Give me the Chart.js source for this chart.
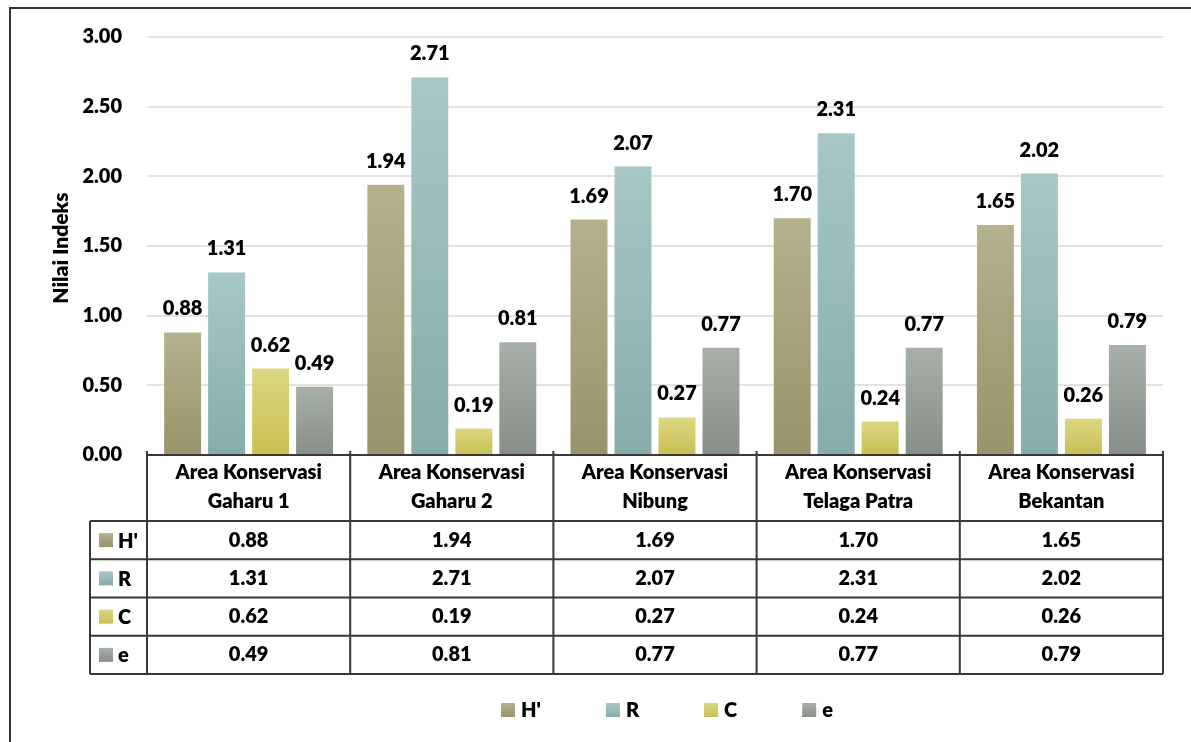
<!DOCTYPE html>
<html>
<head>
<meta charset="utf-8">
<script src="https://cdn.jsdelivr.net/npm/chart.js"></script>
<style>
  html, body { margin: 0; padding: 0; background: #fff; }
  #wrap { width: 1191px; height: 742px; }
</style>
</head>
<body>
<div id="wrap"><canvas id="chart"></canvas></div>
<script>
const categories = [
  ['Area Konservasi', 'Gaharu 1'],
  ['Area Konservasi', 'Gaharu 2'],
  ['Area Konservasi', 'Nibung'],
  ['Area Konservasi', 'Telaga Patra'],
  ['Area Konservasi', 'Bekantan']
];
const seriesNames = ["H'", 'R', 'C', 'e'];
const hValues = [0.88, 1.94, 1.69, 1.70, 1.65];
const rValues = [1.31, 2.71, 2.07, 2.31, 2.02];
const cValues = [0.62, 0.19, 0.27, 0.24, 0.26];
const eValues = [0.49, 0.81, 0.77, 0.77, 0.79];
const yTicks = [0, 0.5, 1, 1.5, 2, 2.5, 3];

const topColors = ['#b5b18e', '#a8c7c7', '#dcd782', '#a7afa9'];
const bottomColors = ['#99936a', '#86acab', '#c8c052', '#868f87'];
const FONT = 'Lato, "Open Sans", sans-serif';
const W = '800';

function barGradient(i) {
  return function(context) {
    const chart = context.chart;
    const y = chart.scales.y;
    if (!y || !context.parsed) return topColors[i];
    const yTop = y.getPixelForValue(context.parsed.y);
    const yBase = y.getPixelForValue(0);
    if (!isFinite(yTop) || Math.abs(yBase - yTop) < 1) return topColors[i];
    const g = chart.ctx.createLinearGradient(0, yTop, 0, yBase);
    g.addColorStop(0, topColors[i]);
    g.addColorStop(1, bottomColors[i]);
    return g;
  };
}

function boxGradient(ctx, i, y, s) {
  const g = ctx.createLinearGradient(0, y, 0, y + s);
  g.addColorStop(0, topColors[i]);
  g.addColorStop(1, bottomColors[i]);
  return g;
}

// frame, data labels, table, legend, axis title
const extrasPlugin = {
  id: 'extras',
  beforeDraw(chart) {
    const ctx = chart.ctx;
    ctx.save();
    ctx.strokeStyle = '#3b3629';
    ctx.lineWidth = 2;
    ctx.beginPath();
    ctx.moveTo(10, chart.height);
    ctx.lineTo(10, 8);
    ctx.lineTo(chart.width, 8);
    ctx.stroke();
    ctx.restore();
  },
  afterDraw(chart) {
    const ctx = chart.ctx;
    const area = chart.chartArea;
    ctx.save();

    // value labels above bars
    ctx.font = W + ' 20px ' + FONT;
    ctx.fillStyle = '#000';
    ctx.textAlign = 'center';
    ctx.textBaseline = 'alphabetic';
    chart.data.datasets.forEach((ds, i) => {
      chart.getDatasetMeta(i).data.forEach((bar, j) => {
        ctx.fillText(ds.data[j].toFixed(2), bar.x, bar.y - 17);
      });
    });

    // y axis title
    ctx.save();
    ctx.translate(61, (area.top + area.bottom) / 2 + 2);
    ctx.rotate(-Math.PI / 2);
    ctx.font = W + ' 21px ' + FONT;
    ctx.textBaseline = 'middle';
    ctx.fillText('Nilai Indeks', 0, 0);
    ctx.restore();

    // data table
    const colW = (area.right - area.left) / categories.length;
    const top = area.bottom;
    const headerH = 66;
    const rowH = 38.25;
    const keyLeft = 90;
    const bottom = top + headerH + rowH * seriesNames.length;

    ctx.strokeStyle = '#3b3731';
    ctx.lineWidth = 2;
    ctx.beginPath();
    ctx.moveTo(area.left, top);
    ctx.lineTo(area.right, top);
    for (let r = 0; r <= seriesNames.length; r++) {
      const yy = top + headerH + r * rowH;
      ctx.moveTo(keyLeft, yy);
      ctx.lineTo(area.right, yy);
    }
    for (let c = 0; c <= categories.length; c++) {
      const xx = area.left + c * colW;
      ctx.moveTo(xx, top - 4);
      ctx.lineTo(xx, bottom);
    }
    ctx.moveTo(keyLeft, top + headerH);
    ctx.lineTo(keyLeft, bottom);
    ctx.stroke();

    ctx.font = W + ' 20px ' + FONT;
    ctx.fillStyle = '#000';
    ctx.textAlign = 'center';
    ctx.textBaseline = 'middle';
    categories.forEach((lines, c) => {
      const cx = chart.scales.x.getPixelForValue(c);
      ctx.fillText(lines[0], cx, top + 18);
      ctx.fillText(lines[1], cx, top + 47);
      chart.data.datasets.forEach((ds, i) => {
        ctx.fillText(ds.data[c].toFixed(2), cx, top + headerH + rowH * (i + 0.5));
      });
    });

    ctx.textAlign = 'left';
    seriesNames.forEach((name, i) => {
      const cy = top + headerH + rowH * (i + 0.5);
      ctx.fillStyle = boxGradient(ctx, i, cy - 7, 14);
      ctx.fillRect(99, cy - 7, 14, 14);
      ctx.fillStyle = '#000';
      ctx.fillText(name, 118, cy + 1);
    });

    // legend
    const ly = 710;
    const gapAfter = 65;
    const widths = seriesNames.map(n => 14 + 6 + ctx.measureText(n).width);
    const total = widths.reduce((a, b) => a + b, 0) + gapAfter * (widths.length - 1);
    let lx = 667 - total / 2;
    seriesNames.forEach((name, i) => {
      ctx.fillStyle = boxGradient(ctx, i, ly - 7, 14);
      ctx.fillRect(lx, ly - 7, 14, 14);
      ctx.fillStyle = '#000';
      ctx.fillText(name, lx + 20, ly + 1);
      lx += widths[i] + gapAfter;
    });

    ctx.restore();
  }
};

new Chart(document.getElementById('chart'), {
  type: 'bar',
  data: {
    labels: categories,
    datasets: [
      { label: seriesNames[0], data: hValues, backgroundColor: barGradient(0) },
      { label: seriesNames[1], data: rValues, backgroundColor: barGradient(1) },
      { label: seriesNames[2], data: cValues, backgroundColor: barGradient(2) },
      { label: seriesNames[3], data: eValues, backgroundColor: barGradient(3) }
    ]
  },
  options: {
    responsive: true,
    maintainAspectRatio: false,
    animation: false,
    layout: { padding: { left: 10, right: 28, top: 36, bottom: 0 } },
    datasets: {
      bar: { categoryPercentage: 0.866, barPercentage: 0.84, borderWidth: 0 }
    },
    scales: {
      x: {
        ticks: { display: false },
        grid: { display: false },
        border: { display: false },
        afterFit(scale) { scale.height = 287; }
      },
      y: {
        min: 0,
        max: 3,
        afterFit(scale) { scale.width = 137; },
        afterBuildTicks(scale) { scale.ticks = yTicks.map(v => ({ value: v })); },
        ticks: {
          padding: 25,
          color: '#000',
          font: { family: FONT, size: 20, weight: W },
          callback: v => Number(v).toFixed(2)
        },
        grid: { color: '#e6e2dc', lineWidth: 2, drawTicks: false },
        border: { display: false }
      }
    },
    plugins: {
      legend: { display: false },
      tooltip: { enabled: false }
    }
  },
  plugins: [extrasPlugin]
});
</script>
</body>
</html>
